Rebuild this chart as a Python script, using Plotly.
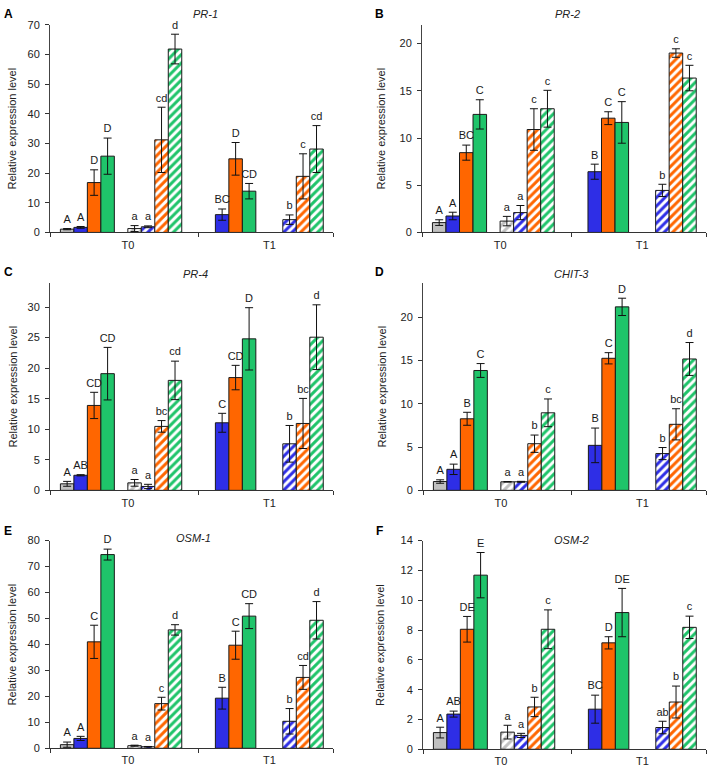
import plotly.graph_objects as go

# ---------------- data ----------------
times = [0, 1]
time_labels = ["T0", "T1"]
genes = ["PR-1", "PR-2", "PR-4", "CHIT-3", "OSM-1", "OSM-2"]
panel_letters = ["A", "B", "C", "D", "E", "F"]
y_max = [70, 22, 34, 24, 80, 14]
y_dtick = [10, 5, 5, 5, 10, 2]

# series order: solid grey, solid blue, solid orange, solid green, (spacer),
# hatched grey, hatched blue, hatched orange, hatched green, (spacer)
series_keys = ["g", "b", "o", "gr", None, "hg", "hb", "ho", "hgr", None]
series_colors = {"g": "#c0c0c0", "b": "#2e2ee6", "o": "#ff6600", "gr": "#1fc46a",
                 "hg": "#c0c0c0", "hb": "#2e2ee6", "ho": "#ff6600", "hgr": "#1fc46a"}
hatched = {"hg", "hb", "ho", "hgr"}

pr1_mean = {"g": [1.1, None], "b": [1.7, 6.0], "o": [16.8, 24.8], "gr": [25.7, 13.9],
            "hg": [1.3, None], "hb": [1.9, 4.3], "ho": [31.2, 18.9], "hgr": [61.8, 28.1]}
pr1_err = {"g": [0.2, None], "b": [0.3, 1.9], "o": [4.3, 5.5], "gr": [6.1, 2.6],
           "hg": [1.0, None], "hb": [0.3, 1.6], "ho": [11.0, 7.6], "hgr": [5.0, 7.9]}
pr1_let = {"g": ["A", None], "b": ["A", "BC"], "o": ["D", "D"], "gr": ["D", "CD"],
           "hg": ["a", None], "hb": ["a", "b"], "ho": ["cd", "c"], "hgr": ["d", "cd"]}

pr2_mean = {"g": [1.04, None], "b": [1.74, 6.43], "o": [8.45, 12.1], "gr": [12.5, 11.65],
            "hg": [1.2, None], "hb": [2.1, 4.45], "ho": [10.9, 19.0], "hgr": [13.1, 16.35]}
pr2_err = {"g": [0.3, None], "b": [0.4, 0.8], "o": [0.8, 0.68], "gr": [1.55, 2.2],
           "hg": [0.5, None], "hb": [0.75, 0.65], "ho": [2.2, 0.45], "hgr": [1.95, 1.35]}
pr2_let = {"g": ["A", None], "b": ["A", "B"], "o": ["BC", "C"], "gr": ["C", "C"],
           "hg": ["a", None], "hb": ["a", "b"], "ho": ["c", "c"], "hgr": ["c", "c"]}

pr4_mean = {"g": [1.07, None], "b": [2.47, 11.06], "o": [13.9, 18.46], "gr": [19.1, 24.8],
            "hg": [1.23, None], "hb": [0.64, 7.62], "ho": [10.47, 10.95], "hgr": [18.0, 25.07]}
pr4_err = {"g": [0.4, None], "b": [0.1, 1.55], "o": [2.15, 2.0], "gr": [4.3, 5.1],
           "hg": [0.55, None], "hb": [0.35, 3.0], "ho": [0.95, 4.1], "hgr": [3.15, 5.3]}
pr4_let = {"g": ["A", None], "b": ["AB", "C"], "o": ["CD", "CD"], "gr": ["CD", "D"],
           "hg": ["a", None], "hb": ["a", "b"], "ho": ["bc", "bc"], "hgr": ["cd", "d"]}

chit3_mean = {"g": [1.02, None], "b": [2.43, 5.2], "o": [8.27, 15.26], "gr": [13.85, 21.2],
              "hg": [0.99, None], "hb": [0.99, 4.25], "ho": [5.39, 7.63], "hgr": [8.96, 15.18]}
chit3_err = {"g": [0.2, None], "b": [0.6, 2.0], "o": [0.75, 0.65], "gr": [0.8, 1.0],
             "hg": [0.03, None], "hb": [0.05, 0.7], "ho": [1.0, 1.8], "hgr": [1.6, 1.9]}
chit3_let = {"g": ["A", None], "b": ["A", "B"], "o": ["B", "C"], "gr": ["C", "D"],
             "hg": ["a", None], "hb": ["a", "b"], "ho": ["b", "bc"], "hgr": ["c", "d"]}

osm1_mean = {"g": [1.4, None], "b": [3.8, 19.3], "o": [41.0, 39.7], "gr": [74.6, 50.9],
             "hg": [1.0, None], "hb": [0.6, 10.4], "ho": [17.2, 27.3], "hgr": [45.6, 49.3]}
osm1_err = {"g": [1.0, None], "b": [0.8, 4.2], "o": [6.4, 5.4], "gr": [2.1, 4.8],
            "hg": [0.2, None], "hb": [0.1, 4.9], "ho": [2.45, 4.6], "hgr": [2.0, 7.2]}
osm1_let = {"g": ["A", None], "b": ["A", "B"], "o": ["C", "C"], "gr": ["D", "CD"],
            "hg": ["a", None], "hb": ["a", "b"], "ho": ["c", "cd"], "hgr": ["d", "d"]}

osm2_mean = {"g": [1.12, None], "b": [2.36, 2.69], "o": [8.05, 7.14], "gr": [11.68, 9.17],
             "hg": [1.15, None], "hb": [0.93, 1.46], "ho": [2.84, 3.17], "hgr": [8.05, 8.18]}
osm2_err = {"g": [0.36, None], "b": [0.2, 0.94], "o": [0.86, 0.41], "gr": [1.52, 1.62],
            "hg": [0.46, None], "hb": [0.14, 0.42], "ho": [0.65, 1.07], "hgr": [1.3, 0.75]}
osm2_let = {"g": ["A", None], "b": ["AB", "BC"], "o": ["DE", "D"], "gr": ["E", "DE"],
            "hg": ["a", None], "hb": ["a", "ab"], "ho": ["b", "b"], "hgr": ["c", "c"]}

means = [pr1_mean, pr2_mean, pr4_mean, chit3_mean, osm1_mean, osm2_mean]
errs = [pr1_err, pr2_err, pr4_err, chit3_err, osm1_err, osm2_err]
lets = [pr1_let, pr2_let, pr4_let, chit3_let, osm1_let, osm2_let]

# ---------------- layout geometry (pixels) ----------------
W, H = 708, 773
FONT = "Liberation Sans, Arial, sans-serif"
BARGAP = 0.047
NSLOT = len(series_keys)
XRANGE = [-0.55, 1.45]
LETTER_PAD = 0.014  # fraction of the y range between error bar and letter
# plot areas: (left, right, top, bottom) in px
areas = [(50, 333, 19, 230), (422, 706, 19, 230),
         (50, 333, 281, 492), (423, 706, 281, 492),
         (50, 333, 543, 754), (423, 706, 543, 755)]
title_pos = [(205, 8), (567, 8), (195, 272), (571, 272), (194, 540), (571, 542)]
letter_pos = [(8, 8), (379, 8), (8, 270), (379, 270), (8, 533), (379, 533)]
ytitle_x = [12, 381, 12, 381, 12, 380]

def px_x(p):
    return p / W

def px_y(p):
    return 1 - p / H

def slot_offset(k):
    w = (1 - BARGAP)
    return -w / 2 + (k + 0.5) * w / NSLOT

fig = go.Figure()
annotations = []

for p in range(6):
    ax = "" if p == 0 else str(p + 1)
    xref, yref = "x" + ax, "y" + ax
    lx, ly, lt = [], [], []
    for k, key in enumerate(series_keys):
        if key is None:
            fig.add_trace(go.Bar(x=times, y=[None, None], xaxis=xref, yaxis=yref,
                                 showlegend=False, hoverinfo="skip"))
            continue
        col = series_colors[key]
        vals = means[p][key]
        er = errs[p][key]
        marker = dict(color=col, line=dict(color="#1a1a1a", width=1))
        if key in hatched:
            marker = dict(color="white", line=dict(color="#1a1a1a", width=1),
                          pattern=dict(shape="/", fgcolor=col, bgcolor="white",
                                       size=6, solidity=0.5, fillmode="replace"))
        fig.add_trace(go.Bar(
            x=times, y=vals, xaxis=xref, yaxis=yref, marker=marker,
            error_y=dict(type="data", array=er, visible=True, color="#111",
                         thickness=1, width=4),
            showlegend=False))
        for i, t in enumerate(times):
            lab = lets[p][key][i]
            if lab is None or vals[i] is None:
                continue
            lx.append(t + slot_offset(k))
            ly.append(vals[i] + (er[i] or 0) + LETTER_PAD * y_max[p])
            lt.append(lab)
    # significance letters
    fig.add_trace(go.Scatter(
        x=lx, y=ly, text=lt, mode="text", textposition="top center",
        textfont=dict(family=FONT, size=11, color="#1a1a1a"),
        xaxis=xref, yaxis=yref, showlegend=False, hoverinfo="skip", cliponaxis=False))
    l, r, tp, bt = areas[p]
    fig.layout["xaxis" + ax] = dict(
        domain=[px_x(l), px_x(r)], anchor=yref, range=XRANGE,
        tickvals=times, ticktext=time_labels, ticks="", showgrid=False,
        zeroline=False, showline=True, linecolor="#333", linewidth=1,
        tickfont=dict(family=FONT, size=11, color="#222"), ticklabelstandoff=2,
        minor=dict(tickvals=[XRANGE[0], 0.5, XRANGE[1]], ticks="outside",
                   ticklen=4, tickcolor="#333", showgrid=False),
        fixedrange=True)
    fig.layout["yaxis" + ax] = dict(
        domain=[px_y(bt), px_y(tp)], anchor=xref, range=[0, y_max[p]],
        dtick=y_dtick[p], ticks="outside", ticklen=4, tickcolor="#333",
        showgrid=False, zeroline=False, showline=True, linecolor="#444",
        linewidth=1, tickfont=dict(family=FONT, size=11, color="#222"),
        ticklabelstandoff=3, fixedrange=True)
    # gene title
    annotations.append(dict(x=px_x(title_pos[p][0]), y=px_y(title_pos[p][1]),
                            xref="paper", yref="paper", text="<i>" + genes[p] + "</i>",
                            showarrow=False, font=dict(family=FONT, size=11, color="#222"),
                            xanchor="center", yanchor="middle"))
    # panel letter
    annotations.append(dict(x=px_x(letter_pos[p][0]), y=px_y(letter_pos[p][1]),
                            xref="paper", yref="paper", text="<b>" + panel_letters[p] + "</b>",
                            showarrow=False, font=dict(family=FONT, size=12, color="#000"),
                            xanchor="center", yanchor="middle"))
    # y-axis title
    annotations.append(dict(x=px_x(ytitle_x[p]), y=px_y((tp + bt) / 2),
                            xref="paper", yref="paper", text="Relative expression level",
                            textangle=-90, showarrow=False,
                            font=dict(family=FONT, size=11, color="#222"),
                            xanchor="center", yanchor="middle"))

fig.update_layout(
    width=W, height=H, margin=dict(l=0, r=0, t=0, b=0),
    barmode="group", bargap=BARGAP, bargroupgap=0,
    plot_bgcolor="white", paper_bgcolor="white", showlegend=False,
    annotations=annotations,
)

fig.write_html("out.html", config={"displayModeBar": False},
               post_script="document.documentElement.style.margin='0';"
                           "document.documentElement.style.padding='0';"
                           "document.body.style.margin='0';"
                           "document.body.style.padding='0';"
                           "document.body.style.overflow='hidden';")
